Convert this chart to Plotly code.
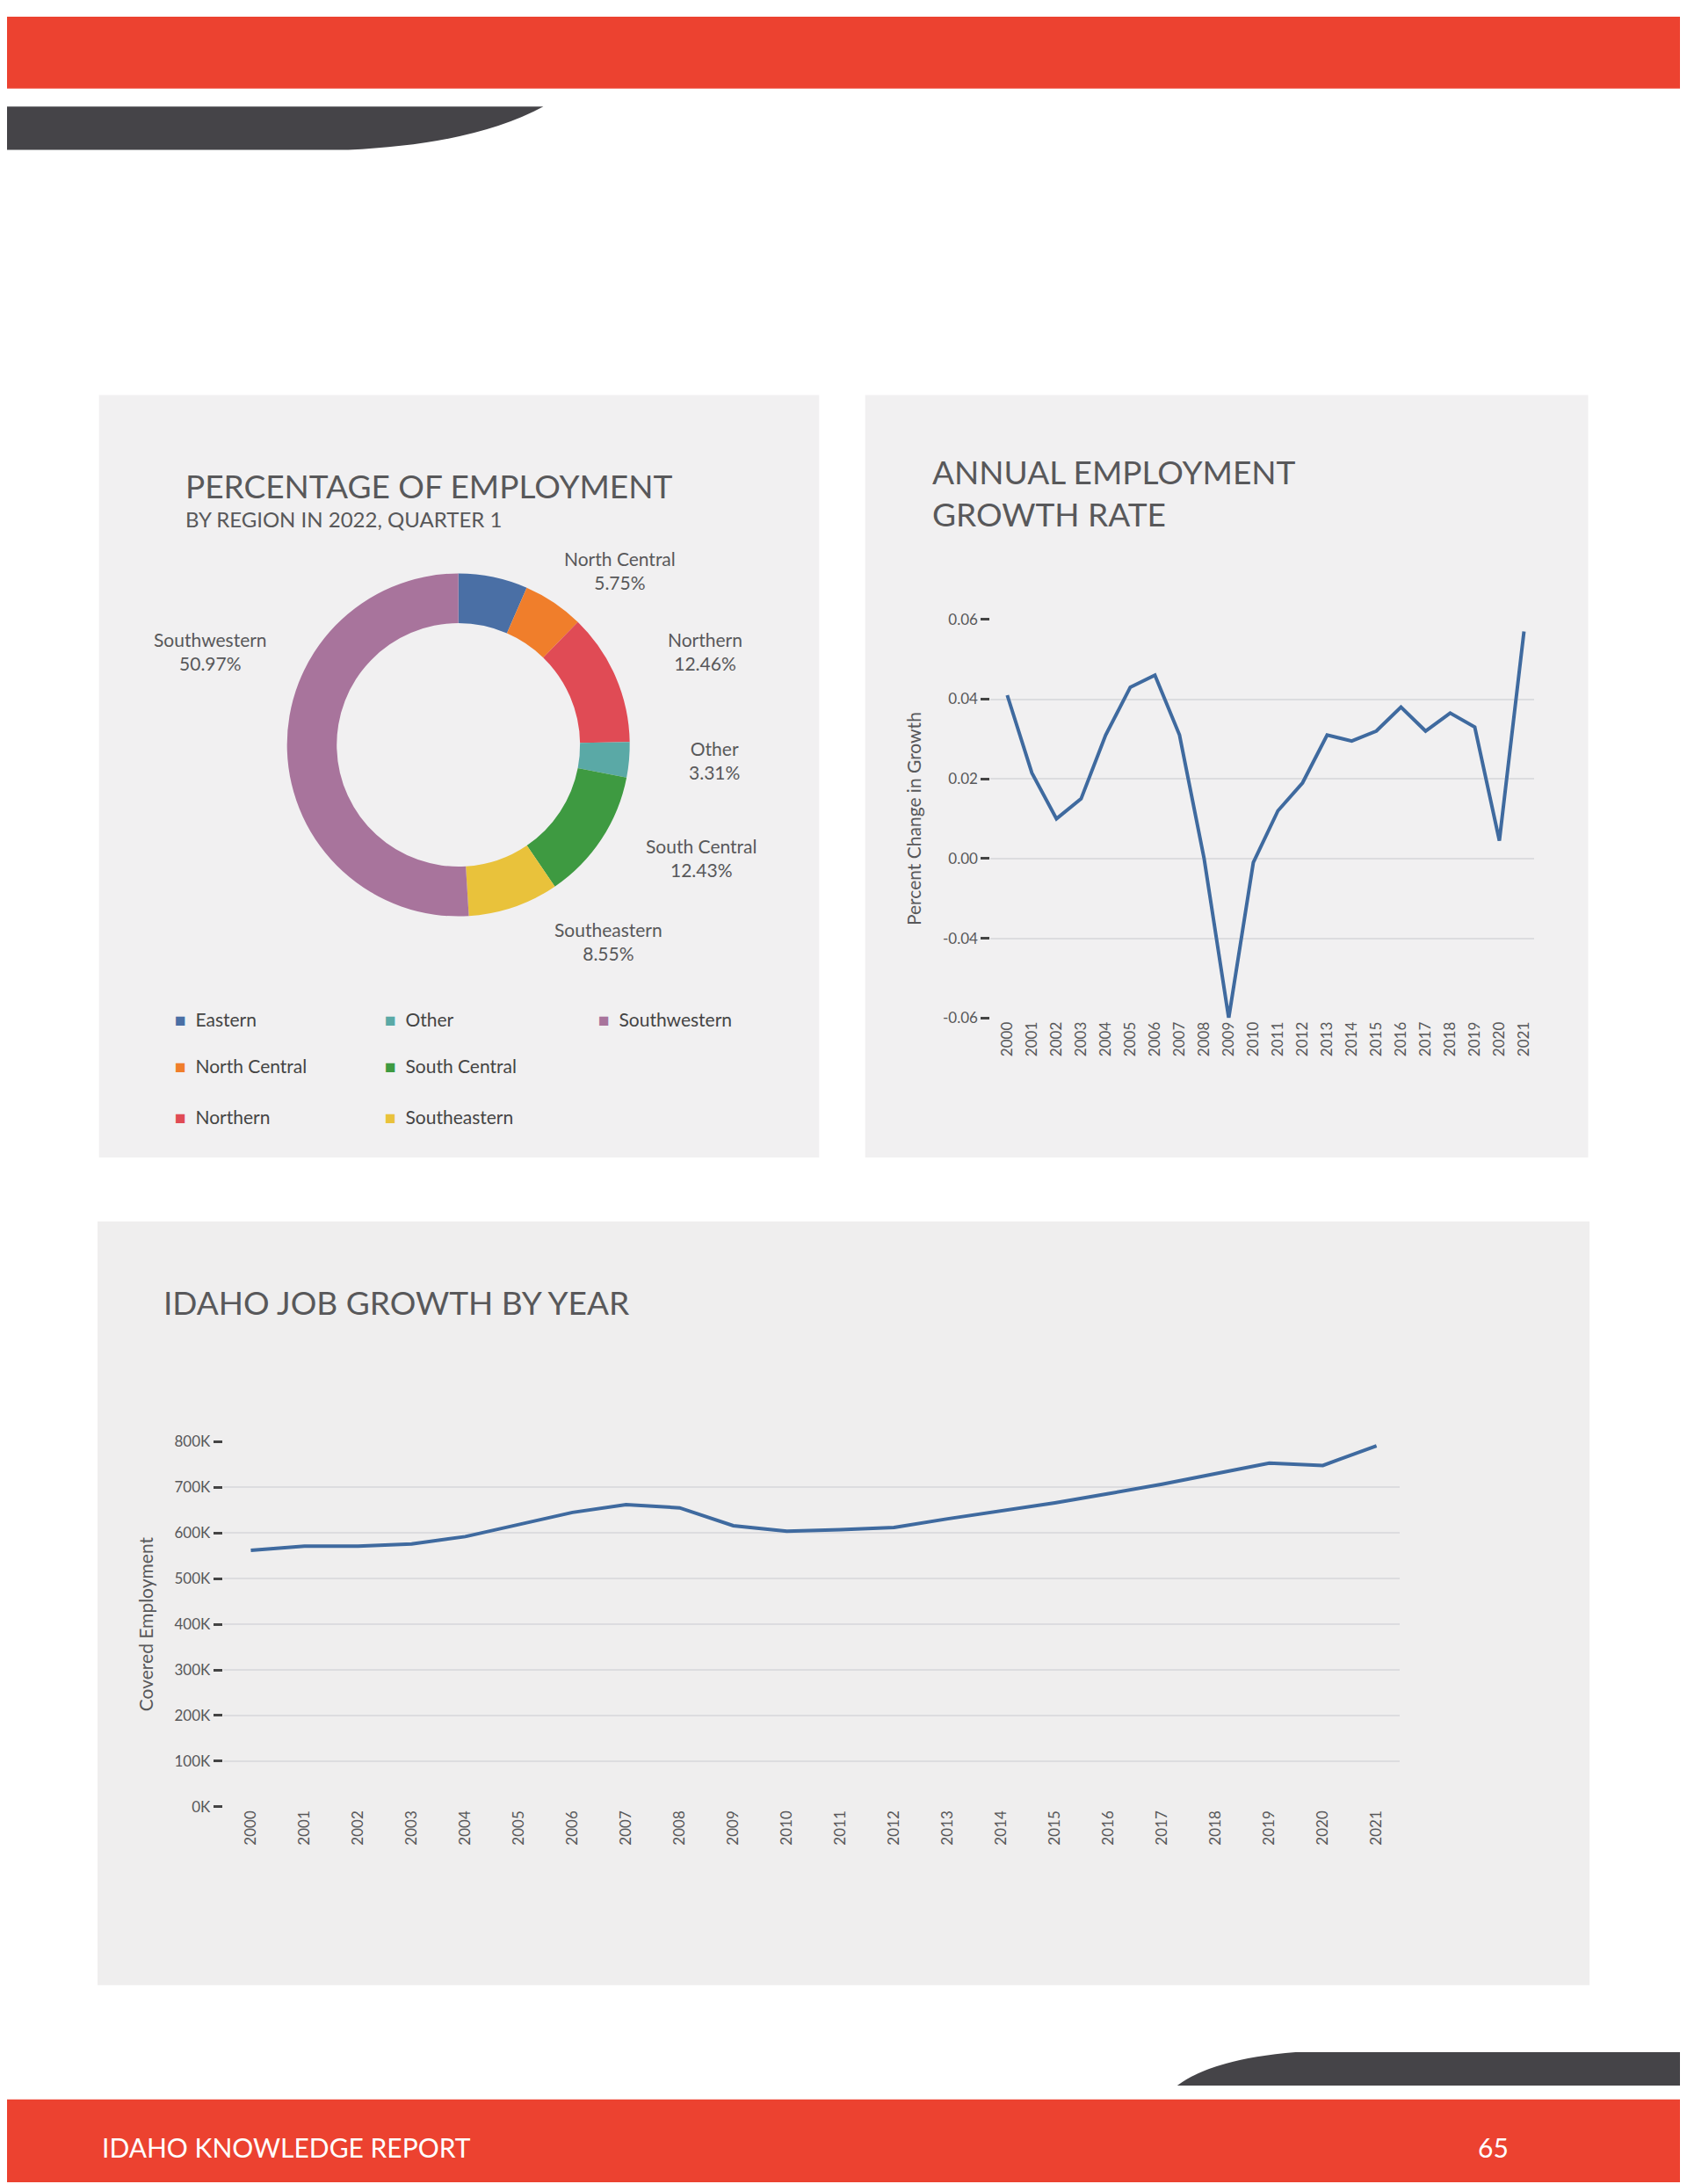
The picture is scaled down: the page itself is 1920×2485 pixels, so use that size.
"""
plot.py — アイダホ州 雇用レポート（65ページ）の再現（plotly）

出力:
  out.html — 円グラフ（地域別雇用割合）と 2 本の折れ線グラフを 1 ページに配置
"""

import plotly.graph_objects as go

# ──────────────────────────────
# ページ座標（元ページ 1211x1568 基準の px → paper 座標）
# ──────────────────────────────
PAGE_W, PAGE_H = 1211.0, 1568.0
OFF_X = 5.0           # HTML の body 余白ぶんを補正（横）
OFF_Y, SCALE_Y = 12.5, 0.991   # 縦方向の補正（実測）
FONT = "Lato"
GRAY = "#58585a"


def px(x):
    return (x - OFF_X) / PAGE_W


def py(y):
    return 1.0 - ((y - OFF_Y) / SCALE_Y) / PAGE_H


# ──────────────────────────────
# データ
# ──────────────────────────────
REGIONS = [
    # 名前, 割合, 色, ラベル位置(x, y), 凡例位置(x, y)
    ("Eastern",       6.53, "#4a6fa5", None,        (124, 732)),
    ("North Central", 5.75, "#f07e2b", (445, 410),  (124, 765)),
    ("Northern",     12.46, "#e04b55", (506, 468),  (124, 802)),
    ("Other",         3.31, "#5aa9a6", (513, 546),  (275, 732)),
    ("South Central",12.43, "#3e9a41", (503, 616),  (275, 765)),
    ("Southeastern",  8.55, "#e9c23b", (437, 676),  (275, 802)),
    ("Southwestern", 50.97, "#a8749c", (151, 468),  (428, 732)),
]

YEARS = list(range(2000, 2022))
# 年間雇用成長率（縦軸の目盛りは元図どおりの表記）
GROWTH = [0.041, 0.0215, 0.010, 0.015, 0.031, 0.043, 0.046, 0.031, 0.000, -0.040,
          -0.001, 0.012, 0.019, 0.031, 0.0295, 0.032, 0.038, 0.032, 0.0365, 0.033,
          0.0045, 0.057]
EMPLOYMENT = [562e3, 571e3, 571e3, 576e3, 592e3, 618e3, 645e3, 662e3, 655e3, 616e3,
              604e3, 607e3, 612e3, 631e3, 648e3, 666e3, 686e3, 707e3, 730e3, 753e3,
              748e3, 791e3]


def page_shapes():
    """ヘッダー・フッター・パネル背景の図形。"""
    p = dict(xref="paper", yref="paper", line_width=0)
    shapes = [
        dict(type="rect", x0=0, x1=1, y0=py(64), y1=1, fillcolor="#ec4230", **p),
        dict(type="path", fillcolor="#454448",
             path=(f"M {px(0)},{py(77)} L {px(390)},{py(77)} "
                   f"Q {px(340)},{py(104)} {px(250)},{py(108)} L {px(0)},{py(108)} Z"), **p),
        dict(type="path", fillcolor="#454448",
             path=(f"M {px(1220)},{py(1473)} L {px(930)},{py(1473)} "
                   f"Q {px(870)},{py(1478)} {px(845)},{py(1497)} L {px(1220)},{py(1497)} Z"), **p),
        dict(type="rect", x0=0, x1=1, y0=0, y1=py(1507), fillcolor="#ec4230", **p),
    ]
    for x0, y0, x1, y1, c in [(71, 284, 588, 831, "#f1f0f1"),
                              (621, 284, 1140, 831, "#f1f0f1"),
                              (70, 877, 1141, 1425, "#efeeee")]:
        shapes.append(dict(type="rect", x0=px(x0), x1=px(x1), y0=py(y1), y1=py(y0),
                           fillcolor=c, layer="below", **p))
    return shapes


def text_ann(x, y, text, size, color=GRAY, xanchor="left", align="left"):
    return dict(x=px(x), y=py(y), xref="paper", yref="paper", text=text,
                showarrow=False, xanchor=xanchor, yanchor="middle", align=align,
                font=dict(family=FONT, size=size, color=color))


def build_figure():
    fig = go.Figure()

    # ── 円グラフ（ドーナツ）──
    fig.add_trace(go.Pie(
        labels=[r[0] for r in REGIONS], values=[r[1] for r in REGIONS],
        marker=dict(colors=[r[2] for r in REGIONS], line=dict(width=0)),
        hole=0.71, sort=False, direction="clockwise", rotation=0,
        textinfo="none", showlegend=False,
        domain=dict(x=[px(206), px(452)], y=[py(658), py(412)]),
    ))

    # ── 年間雇用成長率 ──
    fig.add_trace(go.Scatter(
        x=YEARS, y=GROWTH, mode="lines", line=dict(color="#3f6a9f", width=4),
        xaxis="x", yaxis="y", showlegend=False,
    ))

    # ── 雇用者数 ──
    fig.add_trace(go.Scatter(
        x=YEARS, y=EMPLOYMENT, mode="lines", line=dict(color="#3f6a9f", width=4),
        xaxis="x2", yaxis="y2", showlegend=False,
    ))

    anns = [
        text_ann(132, 349, "PERCENTAGE OF EMPLOYMENT", 37),
        text_ann(132, 373, "BY REGION IN 2022, QUARTER 1", 24),
        text_ann(668, 354, "ANNUAL EMPLOYMENT<br>GROWTH RATE", 37),
        text_ann(116, 935, "IDAHO JOB GROWTH BY YEAR", 37),
        text_ann(72, 1541, "IDAHO KNOWLEDGE REPORT", 30, color="white"),
        text_ann(1072, 1541, "65", 30, color="white", xanchor="center"),
    ]
    for name, val, color, lab, leg in REGIONS:
        if lab is not None:
            anns.append(text_ann(lab[0], lab[1], f"{name}<br>{val:.2f}%", 21,
                                 xanchor="center", align="center"))
        anns.append(text_ann(leg[0], leg[1], f"<span style='color:{color}'>■</span>  {name}",
                             21, color="#444"))

    tick_font = dict(family=FONT, size=17, color=GRAY)
    axis_common = dict(showgrid=False, zeroline=False, tickangle=-90, tickfont=tick_font,
                       tickmode="array", tickvals=YEARS, ticktext=[str(y) for y in YEARS],
                       ticks="", showline=False)
    yaxis_common = dict(showgrid=True, gridcolor="#dcdcdf", gridwidth=1.5, zeroline=False,
                        ticks="outside", ticklen=10, tickwidth=3, tickcolor="#444",
                        tickfont=tick_font, showline=False)

    fig.update_layout(
        width=1920, height=2485,
        margin=dict(l=0, r=0, t=0, b=0),
        paper_bgcolor="white", plot_bgcolor="rgba(0,0,0,0)",
        shapes=page_shapes(), annotations=anns,
        xaxis=dict(domain=[px(711), px(1101)], range=[1999.32, 2021.4],
                   anchor="y", **axis_common),
        yaxis=dict(domain=[py(731), py(445)], range=[-0.04, 0.06], anchor="x",
                   tickvals=[0.06, 0.04, 0.02, 0.0, -0.02, -0.04],
                   ticktext=["0.06", "0.04", "0.02", "0.00", "-0.04", "-0.06"],
                   title=dict(text="Percent Change in Growth", standoff=18,
                              font=dict(family=FONT, size=21, color=GRAY)),
                   **yaxis_common),
        xaxis2=dict(domain=[px(160), px(1005)], range=[1999.48, 2021.44],
                    anchor="y2", **axis_common),
        yaxis2=dict(domain=[py(1297), py(1035)], range=[0, 800e3], anchor="x2",
                    tickvals=[i * 1e5 for i in range(9)],
                    ticktext=[f"{i * 100}K" for i in range(9)],
                    title=dict(text="Covered Employment", standoff=18,
                               font=dict(family=FONT, size=21, color=GRAY)),
                    **yaxis_common),
    )
    return fig


if __name__ == "__main__":
    fig = build_figure()
    fig.write_html("out.html")
